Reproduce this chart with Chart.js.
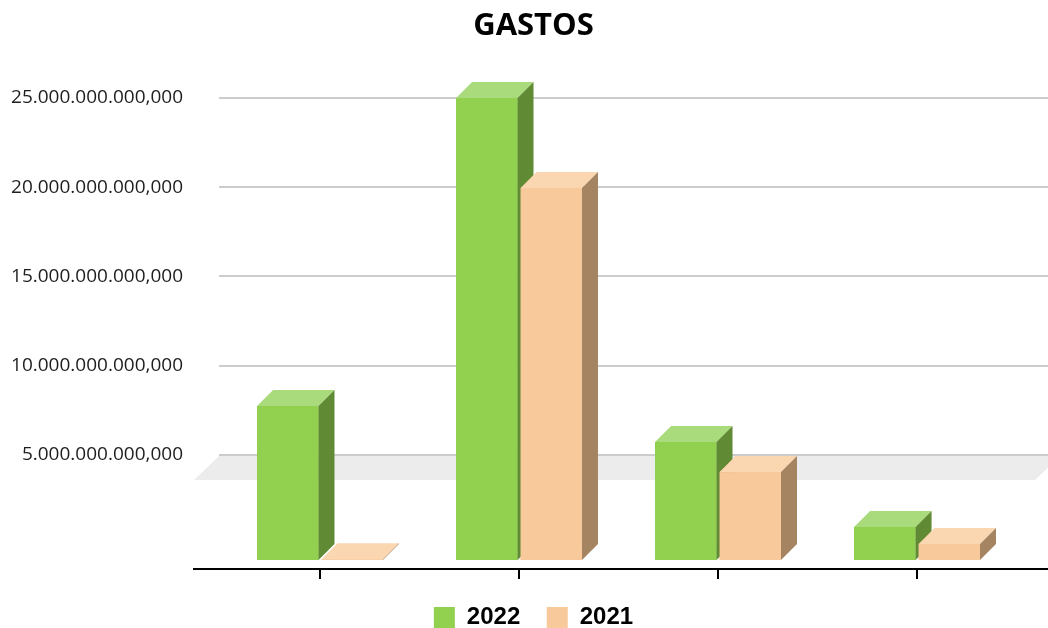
<!DOCTYPE html>
<html lang="es">
<head>
    <meta charset="UTF-8">
    <title>Gastos</title>
    <script src="https://cdn.jsdelivr.net/npm/chart.js"></script>
    <style>
        html, body {
            margin: 0;
            padding: 0;
            background: #ffffff;
            overflow: hidden;
        }
        .contenedor {
            width: 1048px;
            height: 628px;
            position: relative;
        }
    </style>
</head>
<body>
    <div class="contenedor">
        <canvas id="grafico"></canvas>
    </div>
    <script>
        // datos
        const categorias = [1, 2, 3, 4];
        const series = ["2022", "2021"];
        const gastos2022 = [8.33e9, 25.0e9, 6.39e9, 1.79e9];
        const gastos2021 = [0.04e9, 20.13e9, 4.76e9, 0.87e9];
        const ticksY = [5e9, 10e9, 15e9, 20e9, 25e9];

        const colores = [
            { frente: "#92d050", arriba: "#a9da7b", lado: "#618a35" },
            { frente: "#f8c99b", arriba: "#fad6b1", lado: "#a58462" }
        ];
        const PROF = 16;

        function formato(v) {
            const entero = Math.round(v).toString().replace(/\B(?=(\d{3})+(?!\d))/g, ".");
            return entero + ",000";
        }

        // suelo gris y prolongacion del eje
        const suelo = {
            id: "suelo",
            afterLayout(chart) {
                // que las etiquetas del eje no se recorten por el margen izquierdo
                chart.scales.y2.left = 0;
            },
            beforeDatasetsDraw(chart) {
                const ctx = chart.ctx;
                const a = chart.chartArea;
                const t = chart.scales.y2.getPixelForValue(5e9) + 1;
                const b = t + 24;
                ctx.save();
                ctx.fillStyle = "#ececec";
                ctx.beginPath();
                ctx.moveTo(a.left - 25, b);
                ctx.lineTo(a.left, t);
                ctx.lineTo(a.right + 12, t);
                ctx.lineTo(a.right - 13, b);
                ctx.closePath();
                ctx.fill();
                ctx.strokeStyle = "#000";
                ctx.lineWidth = 2;
                ctx.beginPath();
                ctx.moveTo(a.left - 26, a.bottom);
                ctx.lineTo(a.left + 1, a.bottom);
                ctx.stroke();
                ctx.restore();
            }
        };

        // cajas 3D sobre las barras
        const cajas = {
            id: "cajas",
            afterDatasetsDraw(chart) {
                const ctx = chart.ctx;
                ctx.save();
                for (let j = 0; j < categorias.length; j++) {
                    for (let i = 0; i < chart.data.datasets.length; i++) {
                        const el = chart.getDatasetMeta(i).data[j];
                        const c = colores[i];
                        const izq = el.x - el.width / 2;
                        const der = el.x + el.width / 2;
                        const top = el.y;
                        const base = el.base;
                        ctx.fillStyle = c.frente;
                        ctx.fillRect(izq, top, der - izq, base - top);
                        ctx.fillStyle = c.arriba;
                        ctx.beginPath();
                        ctx.moveTo(izq, top);
                        ctx.lineTo(izq + PROF, top - PROF);
                        ctx.lineTo(der + PROF, top - PROF);
                        ctx.lineTo(der, top);
                        ctx.closePath();
                        ctx.fill();
                        ctx.fillStyle = c.lado;
                        ctx.beginPath();
                        ctx.moveTo(der, top);
                        ctx.lineTo(der + PROF, top - PROF);
                        ctx.lineTo(der + PROF, base - PROF);
                        ctx.lineTo(der, base);
                        ctx.closePath();
                        ctx.fill();
                    }
                }
                ctx.restore();
            }
        };

        const ctx = document.getElementById("grafico").getContext("2d");
        new Chart(ctx, {
            type: "bar",
            data: {
                labels: categorias,
                datasets: [{
                    label: series[0],
                    data: gastos2022,
                    backgroundColor: colores[0].frente,
                    borderWidth: 0,
                    yAxisID: "y"
                }, {
                    label: series[1],
                    data: gastos2021,
                    backgroundColor: colores[1].frente,
                    borderWidth: 0,
                    yAxisID: "y"
                }]
            },
            options: {
                responsive: true,
                maintainAspectRatio: false,
                animation: false,
                categoryPercentage: 0.648,
                barPercentage: 0.953,
                layout: {
                    padding: { left: 19, right: 0, top: 0, bottom: -11.5 }
                },
                plugins: {
                    tooltip: { enabled: false },
                    title: {
                        display: true,
                        text: "GASTOS",
                        color: "#000",
                        font: { family: "'Open Sans'", size: 31, weight: "bold" },
                        padding: { top: 8, bottom: 52.8 }
                    },
                    legend: {
                        position: "bottom",
                        labels: {
                            color: "#000",
                            font: { family: "'Liberation Sans'", size: 24, weight: "bold" },
                            boxWidth: 21,
                            boxHeight: 21,
                            padding: 26.5
                        }
                    }
                },
                scales: {
                    x: {
                        type: "linear",
                        offset: false,
                        min: 0.4925,
                        max: 4.658,
                        afterBuildTicks: s => { s.ticks = categorias.map(v => ({ value: v })); },
                        ticks: { display: false },
                        grid: {
                            offset: false,
                            drawOnChartArea: false,
                            drawTicks: true,
                            tickLength: 10,
                            color: "#000",
                            lineWidth: 2
                        },
                        border: { display: true, color: "#000", width: 2 }
                    },
                    y: {
                        display: false,
                        min: -0.487e9,
                        max: 25.0e9
                    },
                    y2: {
                        position: "left",
                        min: -1.387e9,
                        max: 25e9,
                        afterBuildTicks: s => { s.ticks = ticksY.map(v => ({ value: v })); },
                        afterFit: s => { s.width = 200; },
                        ticks: {
                            color: "#1e1e1e",
                            font: { family: "'Open Sans'", size: 19 },
                            padding: 36,
                            callback: v => formato(v)
                        },
                        grid: {
                            drawTicks: false,
                            color: "#cccccc",
                            lineWidth: 2
                        },
                        border: { display: false }
                    }
                }
            },
            plugins: [suelo, cajas]
        });
    </script>
</body>
</html>
